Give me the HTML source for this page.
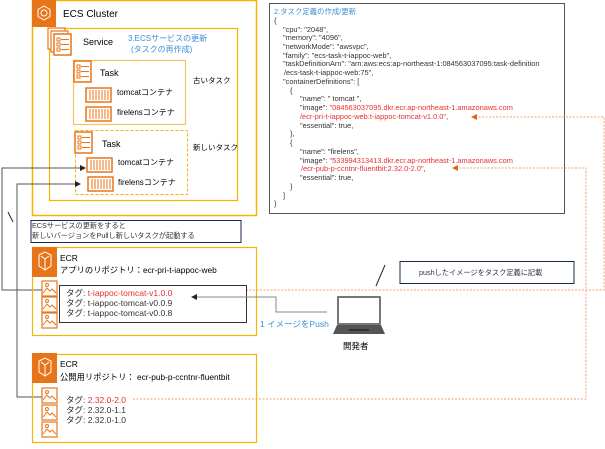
<!DOCTYPE html><html><head><meta charset="utf-8"><style>
body{margin:0;background:#fff}
svg text{font-family:"Liberation Sans","Noto Sans CJK JP",sans-serif;}
</style></head><body>
<svg width="605" height="444" viewBox="0 0 605 444" xmlns="http://www.w3.org/2000/svg">
<defs>
<g id="ct"><rect x="0" y="0" width="25" height="14" fill="#fff" stroke="#e8751a" stroke-width="1.5"/><path d="M4 2v10M7 2v10M10 2v10M13 2v10M16 2v10M19 2v10M22 2v10" stroke="#e8751a" stroke-width="1"/></g>
<g id="tk"><rect x="0" y="0" width="17" height="21" fill="#fff" stroke="#e8751a" stroke-width="1.5"/><path d="M3 4h3v3h-3zM3 9h3v3h-3zM3 14h3v3h-3z" fill="none" stroke="#e8751a"/><path d="M7 5.5h8M7 10.5h8M7 15.5h8" stroke="#e8751a"/></g>
<g id="im"><rect x="0" y="0" width="15" height="15" fill="#fff" stroke="#e8751a" stroke-width="1.2"/><path d="M1 12l4-5 3 3 2-2 4 4" fill="none" stroke="#e8751a"/><circle cx="5" cy="4" r="1.5" fill="none" stroke="#e8751a"/></g>
<g id="ecr"><rect width="25" height="30" fill="#e8741a"/><path d="M7 8l6-3 6 3v11l-6 4-6-4z M13 12v11M9 9l4 3 4-3" fill="none" stroke="#fff" stroke-width="1"/></g>
<marker id="ah" markerWidth="6" markerHeight="6" refX="5" refY="3" orient="auto"><path d="M0 0L6 3L0 6z" fill="#222"/></marker>
<marker id="oh" markerWidth="6" markerHeight="6" refX="5" refY="3" orient="auto"><path d="M0 0L6 3L0 6z" fill="#e8601a"/></marker>
</defs>
<rect x="32.5" y="0.5" width="224" height="215" fill="none" stroke="#f5b400" stroke-width="1.5"/>
<rect x="32" y="0" width="24" height="27" fill="#e8741a"/>
<path d="M44 6l6 3.5v7L44 20l-6-3.5v-7z" fill="none" stroke="#fff"/><circle cx="44" cy="13" r="3" fill="none" stroke="#fff"/>
<text x="63" y="17" font-size="10">ECS Cluster</text>
<rect x="49.5" y="28.5" width="188" height="172" fill="none" stroke="#f5b400" stroke-width="1.2"/>
<rect x="48" y="28" width="17" height="21" fill="#fff" stroke="#e8751a" stroke-width="1.2"/>
<rect x="51" y="31" width="17" height="21" fill="#fff" stroke="#e8751a" stroke-width="1.2"/>
<use href="#tk" x="54" y="34"/>
<text x="83" y="45" font-size="9">Service</text>
<text x="128" y="41" font-size="8" fill="#3a8fd6">3.ECSサービスの更新</text>
<text x="131" y="52" font-size="8" fill="#3a8fd6">(タスクの再作成)</text>
<rect x="73.5" y="60.5" width="112" height="64" fill="#fff" stroke="#f5c460" stroke-width="1.2"/>
<use href="#tk" x="74" y="61"/>
<text x="100" y="76" font-size="9">Task</text>
<use href="#ct" x="86" y="88"/><text x="117" y="95" font-size="8">tomcatコンテナ</text>
<use href="#ct" x="86" y="107"/><text x="117" y="115" font-size="8">firelensコンテナ</text>
<text x="193" y="83" font-size="7.5">古いタスク</text>
<rect x="75.5" y="130.5" width="112" height="64" fill="#fff" stroke="#f5b400" stroke-width="1" stroke-dasharray="3,2"/>
<use href="#tk" x="75" y="132"/>
<text x="102" y="147" font-size="9">Task</text>
<use href="#ct" x="87" y="158"/><text x="118" y="165" font-size="8">tomcatコンテナ</text>
<use href="#ct" x="88" y="177"/><text x="118" y="185" font-size="8">firelensコンテナ</text>
<text x="193" y="150" font-size="7.5">新しいタスク</text>
<polyline points="42,290 2,290 2,168 85,168" fill="none" stroke="#555" marker-end="url(#ah)"/>
<polyline points="42,397 17,397 17,184 80,184" fill="none" stroke="#555" marker-end="url(#ah)"/>
<line x1="8" y1="212" x2="13" y2="222" stroke="#222"/>
<rect x="31" y="220.5" width="210" height="22" fill="#fff" stroke="#1a2a4a" stroke-width="1"/>
<text x="32" y="228" font-size="7.2" fill="#333">ECSサービスの更新をすると</text>
<text x="32" y="238" font-size="7.2" fill="#333">新しいバージョンをPullし新しいタスクが起動する</text>
<rect x="269.5" y="3.5" width="295" height="210" fill="#fff" stroke="#555" stroke-width="1"/>
<g font-size="7.4" fill="#333">
<text x="274" y="14" fill="#3a8fd6">2.タスク定義の作成/更新</text>
<text x="274" y="23">{</text>
<text x="283" y="32">"cpu": "2048",</text>
<text x="283" y="40">"memory": "4096",</text>
<text x="283" y="49">"networkMode": "awsvpc",</text>
<text x="283" y="58">"family": "ecs-task-t-iappoc-web",</text>
<text x="283" y="66">"taskDefinitionArn": "arn:aws:ecs:ap-northeast-1:084563037095:task-definition</text>
<text x="284" y="75">/ecs-task-t-iappoc-web:75",</text>
<text x="283" y="84">"containerDefinitions": [</text>
<text x="290" y="93">{</text>
<text x="300" y="101">"name": " tomcat ",</text>
<text x="300" y="110">"image": <tspan fill="#e83030">"084563037095.dkr.ecr.ap-northeast-1.amazonaws.com</tspan></text>
<text x="300" y="119"><tspan fill="#e83030">/ecr-pri-t-iappoc-web:t-iappoc-tomcat-v1.0.0"</tspan>,</text>
<text x="300" y="128">"essential": true,</text>
<text x="290" y="136">},</text>
<text x="290" y="145">{</text>
<text x="300" y="154">"name": "firelens",</text>
<text x="300" y="163">"image": <tspan fill="#e83030">"533994313413.dkr.ecr.ap-northeast-1.amazonaws.com</tspan></text>
<text x="301" y="171"><tspan fill="#e83030">/ecr-pub-p-ccntnr-fluentbit:2.32.0-2.0"</tspan>,</text>
<text x="300" y="180">"essential": true,</text>
<text x="290" y="189">}</text>
<text x="283" y="198">]</text>
<text x="274" y="206">}</text>
</g>
<polyline points="190,290 604,290 604,117 472,117" fill="none" stroke="#f0a070" stroke-dasharray="2,1.5" marker-end="url(#oh)"/>
<polyline points="133,399 586,399 586,168 453,168" fill="none" stroke="#f0a070" stroke-dasharray="2,1.5" marker-end="url(#oh)"/>
<rect x="32.5" y="247.5" width="224" height="88" fill="none" stroke="#f5b400" stroke-width="1.2"/>
<use href="#ecr" x="32" y="247"/>
<text x="60" y="261" font-size="8.5">ECR</text>
<text x="60" y="273" font-size="8.3">アプリのリポジトリ：ecr-pri-t-iappoc-web</text>
<use href="#im" x="42" y="281"/><use href="#im" x="42" y="297"/><use href="#im" x="42" y="313"/>
<rect x="59.5" y="285.5" width="187" height="37" fill="#fff" stroke="#333" stroke-width="1"/>
<g font-size="8.5" fill="#333">
<text x="66" y="296">タグ: <tspan fill="#e83030">t-iappoc-tomcat-v1.0.0</tspan></text>
<text x="66" y="306">タグ: t-iappoc-tomcat-v0.0.9</text>
<text x="66" y="316">タグ: t-iappoc-tomcat-v0.0.8</text>
</g>
<polyline points="327,312 276,312 276,297 192,297" fill="none" stroke="#888" marker-end="url(#ah)"/>
<text x="260" y="327" font-size="8.5" fill="#3a8fd6">1 イメージをPush</text>
<rect x="337" y="296" width="44" height="29" rx="1" fill="#777"/>
<rect x="339" y="298" width="40" height="25" fill="#fff"/>
<path d="M333 334l4-9h44l4 9z" fill="#555"/>
<rect x="349" y="329" width="20" height="2" fill="#333"/>
<text x="343" y="349" font-size="8.5">開発者</text>
<line x1="385" y1="265" x2="376" y2="286" stroke="#222"/>
<rect x="400" y="261.5" width="174" height="22" fill="#fff" stroke="#1a2a4a"/>
<text x="419" y="275" font-size="7.2" fill="#333">pushしたイメージをタスク定義に記載</text>
<rect x="32.5" y="354.5" width="224" height="88" fill="none" stroke="#f5b400" stroke-width="1.2"/>
<use href="#ecr" x="32" y="353"/>
<text x="60" y="367" font-size="8.5">ECR</text>
<text x="60" y="380" font-size="8.3">公開用リポジトリ： ecr-pub-p-ccntnr-fluentbit</text>
<use href="#im" x="42" y="388"/><use href="#im" x="42" y="405"/><use href="#im" x="42" y="422"/>
<g font-size="8.5" fill="#333">
<text x="66" y="403">タグ: <tspan fill="#e83030">2.32.0-2.0</tspan></text>
<text x="66" y="413">タグ: 2.32.0-1.1</text>
<text x="66" y="423">タグ: 2.32.0-1.0</text>
</g>
</svg>
</body></html>
